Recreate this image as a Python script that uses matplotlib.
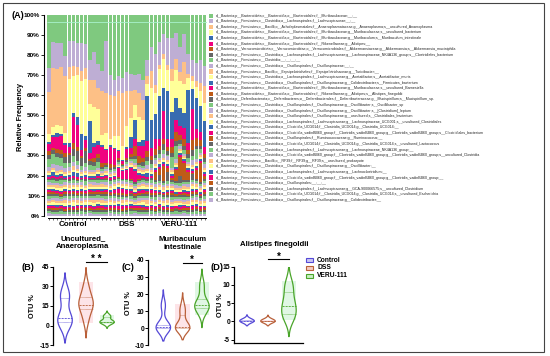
import numpy as np
import matplotlib
matplotlib.use('Agg')
import matplotlib.pyplot as plt
from matplotlib.patches import Rectangle

plt.rcParams['font.family'] = ['Liberation Sans', 'DejaVu Sans']

# ---- data ---------------------------------------------------------------
groups = ["Control", "DSS", "VERU-111"]

taxa = [
    "d__Bacteria;p__Bacteroidota;c__Bacteroidia;o__Bacteroidales;f__Muribaculaceae;__;__",
    "d__Bacteria;p__Firmicutes;c__Clostridia;o__Lachnospirales;f__Lachnospiraceae;__;__",
    "d__Bacteria;p__Firmicutes;c__Bacilli;o__Acholeplasmatales;f__Anaeroplasmataceae;g__Anaeroplasma;s__uncultured_Anaeroplasma",
    "d__Bacteria;p__Bacteroidota;c__Bacteroidia;o__Bacteroidales;f__Muribaculaceae;g__Muribaculaceae;s__uncultured_bacterium",
    "d__Bacteria;p__Bacteroidota;c__Bacteroidia;o__Bacteroidales;f__Muribaculaceae;g__Muribaculum;s__Muribaculum_intestinale",
    "d__Bacteria;p__Bacteroidota;c__Bacteroidia;o__Bacteroidales;f__Rikenellaceae;g__Alistipes;__",
    "d__Bacteria;p__Verrucomicrobiota;c__Verrucomicrobiae;o__Verrucomicrobiales;f__Akkermansiaceae;g__Akkermansia;s__Akkermansia_muciniphila",
    "d__Bacteria;p__Firmicutes;c__Clostridia;o__Lachnospirales;f__Lachnospiraceae;g__Lachnospiraceae_NK4A136_group;s__Clostridiales_bacterium",
    "d__Bacteria;p__Firmicutes;c__Clostridia;__;__;__;__",
    "d__Bacteria;p__Firmicutes;c__Clostridia;o__Oscillospirales;f__Oscillospiraceae;__;__",
    "d__Bacteria;p__Firmicutes;c__Bacilli;o__Erysipelotrichales;f__Erysipelotrichaceae;g__Turicibacter;__",
    "d__Bacteria;p__Firmicutes;c__Clostridia;o__Lachnospirales;f__Lachnospiraceae;g__Acetatifactor;s__Acetatifactor_muris",
    "d__Bacteria;p__Firmicutes;c__Clostridia;o__Oscillospirales;f__Oscillospiraceae;g__Colidextribacter;s__Firmicutes_bacterium",
    "d__Bacteria;p__Bacteroidota;c__Bacteroidia;o__Bacteroidales;f__Muribaculaceae;g__Muribaculaceae;s__uncultured_Barnesiella",
    "d__Bacteria;p__Bacteroidota;c__Bacteroidia;o__Bacteroidales;f__Rikenellaceae;g__Alistipes;s__Alistipes_finegoldii",
    "d__Bacteria;p__Deferribacterota;c__Deferribacteres;o__Deferribacterales;f__Deferribacteraceae;g__Mucispirillum;s__Mucispirillum_sp.",
    "d__Bacteria;p__Firmicutes;c__Clostridia;o__Oscillospirales;f__Oscillospiraceae;g__Oscillibacter;s__Oscillibacter_sp",
    "d__Bacteria;p__Firmicutes;c__Clostridia;o__Oscillospirales;f__Oscillospiraceae;g__Oscillibacter;s__[Clostridium]_leptum",
    "d__Bacteria;p__Firmicutes;c__Clostridia;o__Oscillospirales;f__Oscillospiraceae;g__uncultured;s__Clostridiales_bacterium",
    "d__Bacteria;p__Firmicutes;c__Clostridia;o__Lachnospirales;f__Lachnospiraceae;g__Lachnospiraceae_UCG001;s__uncultured_Clostridiales",
    "d__Bacteria;p__Firmicutes;c__Clostridia;o__Clostridia_UCG014;f__Clostridia_UCG014;g__Clostridia_UCG014;__",
    "d__Bacteria;p__Firmicutes;c__Clostridia;o__Clostridia_vadinBB60_group;f__Clostridia_vadinBB60_group;g__Clostridia_vadinBB60_group;s__Clostridiales_bacterium",
    "d__Bacteria;p__Firmicutes;c__Clostridia;o__Oscillospirales;f__Ruminococcaceae;g__Ruminococcus;__",
    "d__Bacteria;p__Firmicutes;c__Clostridia;o__Clostridia_UCG014;f__Clostridia_UCG014;g__Clostridia_UCG014;s__uncultured_Lactococcus",
    "d__Bacteria;p__Firmicutes;c__Clostridia;o__Lachnospirales;f__Lachnospiraceae;g__Lachnospiraceae_NK4A136_group;__",
    "d__Bacteria;p__Firmicutes;c__Clostridia;o__Clostridia_vadinBB60_group;f__Clostridia_vadinBB60_group;g__Clostridia_vadinBB60_group;s__uncultured_Clostridia",
    "d__Bacteria;p__Firmicutes;c__Bacilli;o__RF39;f__RF39;g__RF39;s__uncultured_prokaryote",
    "d__Bacteria;p__Firmicutes;c__Clostridia;o__Oscillospirales;f__Oscillospiraceae;g__Oscillibacter;__",
    "d__Bacteria;p__Firmicutes;c__Clostridia;o__Lachnospirales;f__Lachnospiraceae;g__Lachnoclostridium;__",
    "d__Bacteria;p__Firmicutes;c__Clostridia;o__Clostridia_vadinBB60_group;f__Clostridia_vadinBB60_group;g__Clostridia_vadinBB60_group;__",
    "d__Bacteria;p__Firmicutes;c__Clostridia;o__Oscillospirales;__;__;__",
    "d__Bacteria;p__Firmicutes;c__Clostridia;o__Lachnospirales;f__Lachnospiraceae;g__GCA-900066575;s__uncultured_Clostridium",
    "d__Bacteria;p__Firmicutes;c__Clostridia;o__Clostridia_UCG014;f__Clostridia_UCG014;g__Clostridia_UCG014;s__uncultured_Escherichia",
    "d__Bacteria;p__Firmicutes;c__Clostridia;o__Oscillospirales;f__Oscillospiraceae;g__Colidextribacter;__",
]

# relative abundance (%), one row per taxon (same order as taxa), one column per mouse
control_pct = [
    [27, 14, 14, 14, 20, 13, 13, 14, 14, 15, 22, 18, 24],
    [12, 13, 13, 12, 10, 13, 12, 12, 14, 12, 10, 14, 12],
    [21, 30, 28, 30, 28, 6, 5, 4, 5, 6, 12, 13, 10],
    [4, 4, 4, 4, 5, 32, 18, 21, 27, 29, 8, 18, 16],
    [1, 1, 2, 1, 1, 2, 2, 4, 8, 2, 16, 2, 2],
    [4, 6, 6, 7, 4, 3, 13, 11, 3, 4, 3, 5, 4],
    [2, 1, 2, 2, 2, 1, 3, 2, 1, 2, 1, 2, 2],
    [2, 2, 2, 2, 3, 4, 3, 5, 4, 6, 2, 2, 2],
    [4, 5, 4, 4, 2, 2, 3, 2, 2, 2, 2, 2, 3],
    [2, 2, 3, 2, 2, 2, 2, 2, 1, 2, 1, 1, 1],
    [1, 1, 1, 1, 1, 1, 2, 1, 1, 1, 1, 1, 1],
    [1, 1, 1, 1, 1, 1, 1, 1, 1, 1, 1, 1, 1],
    [1, 2, 1, 1, 1, 1, 2, 2, 1, 1, 1, 1, 1],
    [1, 1, 1, 1, 0.5, 1, 1, 1, 0.5, 1, 0.5, 0.5, 1],
    [0, 0.3, 0, 0, 0.2, 0, 0, 0.3, 0, 0, 0.2, 0, 0],
    [0.5, 1, 1, 1, 0.5, 1, 1, 0.5, 0.5, 1, 0.5, 0.5, 1],
    [1, 1.5, 1, 2, 1, 1, 1.5, 1, 1, 2, 1, 1, 1.5],
    [1.5, 1, 1, 1, 1.5, 1, 1, 1, 1.5, 1, 1, 1.5, 1],
    [1, 1, 1.5, 1, 1, 1.5, 1, 1, 1, 1, 1.5, 1, 1],
    [1, 1, 1, 1.5, 1, 1, 1, 1.5, 1, 1, 1, 1, 1],
    [0.5, 1, 0.5, 0.5, 1, 0.5, 1, 0.5, 1, 0.5, 0.5, 1, 0.5],
    [1, 0.5, 1, 1, 0.5, 1, 0.5, 1, 0.5, 1, 1, 0.5, 1],
    [1, 1, 0.5, 1, 1, 0.5, 1, 1, 1, 0.5, 1, 1, 1],
    [1, 1, 1, 0.5, 1, 1, 1, 0.5, 1, 1, 1, 1, 0.5],
    [1.5, 1, 1, 1, 1, 1.5, 1, 1, 1, 1, 1, 1, 1.5],
    [1, 1, 1.5, 1, 1, 1, 1, 1, 1.5, 1, 1, 1, 1],
    [1, 1, 1, 1, 1.5, 1, 1, 1.5, 1, 1, 1, 1.5, 1],
    [1, 1.5, 1, 1, 1, 1, 1.5, 1, 1, 1.5, 1, 1, 1],
    [0.5, 0.5, 1, 0.5, 0.5, 1, 0.5, 0.5, 0.5, 1, 0.5, 0.5, 0.5],
    [1, 1, 0.5, 1, 1, 0.5, 1, 1, 1, 0.5, 1, 1, 1],
    [0.5, 1, 1, 0.5, 1, 1, 0.5, 1, 0.5, 1, 1, 0.5, 1],
    [1, 1, 1, 1, 0.5, 1, 1, 1, 1, 1, 0.5, 1, 1],
    [1, 1, 1, 1.5, 1, 1, 1, 1, 1.5, 1, 1, 1, 1],
    [1.5, 1, 1, 1, 1, 1, 1, 1, 1, 1, 1.5, 1, 1],
]

dss_pct = [
    [28, 13, 30, 32, 32, 33, 30, 31, 32, 30, 32, 22, 16],
    [10, 26, 10, 8, 8, 8, 10, 9, 8, 10, 10, 8, 12],
    [22, 20, 22, 20, 24, 28, 18, 14, 8, 12, 10, 4, 8],
    [5, 8, 3, 6, 7, 7, 11, 10, 8, 13, 10, 6, 16],
    [1, 0.5, 1, 0.5, 0.5, 0.5, 1, 6, 10, 2, 3, 22, 14],
    [8, 7, 8, 8, 4, 2, 5, 3, 4, 5, 6, 5, 4],
    [2, 1, 2, 1, 1, 0.5, 1, 2, 5, 4, 2, 3, 2],
    [1, 1, 1, 1, 1, 0.5, 1, 1, 2, 1, 2, 2, 2],
    [1, 1, 1, 1, 1, 0.5, 1, 1, 2, 1, 1, 2, 2],
    [1, 1, 1, 1, 0.5, 0.5, 1, 1, 1, 1, 1, 2, 1],
    [1, 1, 1, 1, 0.5, 0.5, 1, 1, 1, 1, 1, 1, 1],
    [0.5, 1, 0.5, 0.5, 0.5, 0.5, 0.5, 1, 1, 1, 1, 1, 1],
    [0.5, 0.5, 0.5, 0.5, 0.5, 0.5, 0.5, 0.5, 1, 1, 1, 2, 1],
    [1, 1, 1, 1, 5, 4, 5, 6, 6, 2, 1, 1, 1],
    [0, 0.2, 0, 0, 0.3, 0, 0, 0.2, 0, 0.3, 0, 0, 0],
    [0.5, 0.5, 0.5, 0.5, 0.5, 0.5, 0.5, 0.5, 1, 0.5, 1, 1, 1],
    [1, 1, 1.5, 1, 1, 1, 1, 1.5, 1, 1, 1, 1, 1.5],
    [1, 1.5, 1, 1, 1, 1.5, 1, 1, 1, 1.5, 1, 1, 1],
    [1.5, 1, 1, 1, 1.5, 1, 1, 1, 1.5, 1, 1, 1, 1],
    [1, 1, 1, 1.5, 1, 1, 1.5, 1, 1, 1, 1.5, 1, 1],
    [1, 0.5, 1, 0.5, 1, 0.5, 0.5, 1, 0.5, 1, 0.5, 1, 0.5],
    [0.5, 1, 0.5, 1, 2, 2, 2, 1, 0.5, 1, 1, 0.5, 1],
    [1, 1, 1, 0.5, 1, 1, 1, 0.5, 1, 1, 0.5, 1, 1],
    [1, 1, 0.5, 1, 1, 1, 0.5, 1, 1, 0.5, 1, 1, 1],
    [1, 1.5, 1, 1, 1, 1, 1, 1.5, 1, 1, 1, 1, 1],
    [1, 1, 1, 1.5, 1, 1, 1, 1, 1, 1.5, 1, 1, 1],
    [1.5, 1, 1, 1, 1, 1.5, 1, 1, 1, 1, 1, 1.5, 1],
    [1, 1, 1.5, 1, 1, 1, 1.5, 1, 1, 1, 1.5, 1, 1],
    [0.5, 1, 0.5, 0.5, 1, 0.5, 0.5, 1, 0.5, 0.5, 1, 0.5, 0.5],
    [1, 1, 1, 1, 1.5, 1.5, 1, 1, 1, 1, 0.5, 1, 1],
    [1, 0.5, 1, 1, 0.5, 1, 1, 0.5, 1, 1, 1, 0.5, 1],
    [1, 1, 0.5, 1, 1, 0.5, 1, 1, 0.5, 1, 1, 1, 0.5],
    [1, 1, 1, 1, 1, 1, 1, 1.5, 1, 1, 1, 1, 1.5],
    [1, 1, 1.5, 1, 1, 1, 1, 1, 1.5, 1, 1, 1, 1],
]

veru_pct = [
    [20, 14, 10, 12, 12, 10, 18, 10, 20, 22, 26, 24, 25],
    [16, 12, 10, 14, 16, 14, 14, 15, 10, 8, 10, 12, 10],
    [4, 2, 3, 3, 6, 6, 5, 12, 2, 2, 3, 4, 8],
    [11, 14, 15, 11, 16, 15, 15, 15, 6, 4, 6, 8, 9],
    [13, 22, 12, 25, 14, 12, 10, 8, 27, 10, 17, 14, 13],
    [5, 4, 14, 4, 4, 6, 5, 6, 4, 15, 5, 4, 3],
    [3, 2, 3, 2, 3, 5, 3, 4, 2, 5, 4, 3, 2],
    [2, 2, 3, 2, 2, 3, 2, 2, 2, 3, 2, 2, 2],
    [1, 2, 2, 1, 6, 7, 1, 2, 2, 2, 5, 2, 1],
    [2, 1, 2, 2, 1, 2, 2, 1, 1, 2, 2, 1, 2],
    [1, 1, 1, 1, 1, 1, 1, 1, 1, 1, 1, 1, 1],
    [1, 1, 1, 1, 1, 1, 1, 1, 1, 1, 1, 1, 1],
    [1, 2, 1, 1, 1, 1, 1, 1, 1, 1, 1, 1, 1],
    [1, 1, 1, 1, 1, 1, 1, 1, 1, 1, 1, 1, 1],
    [4, 3, 8, 2, 1, 6, 11, 9, 4.3, 0.5, 5, 10, 1.5],
    [1, 3, 1, 5, 1, 1, 4, 1, 1, 3, 1, 1, 1],
    [1, 1, 1, 1.5, 1, 1, 1.5, 1, 1, 1, 1, 1.5, 1],
    [1.5, 1, 1, 1, 1, 1.5, 1, 1, 1.5, 1, 1, 1, 1],
    [1, 1, 1.5, 1, 1, 1, 1, 1.5, 1, 1, 1.5, 1, 1],
    [1, 1.5, 1, 1, 1.5, 1, 1, 1, 1, 1.5, 1, 1, 1],
    [0.5, 1, 0.5, 1, 0.5, 1, 0.5, 1, 0.5, 1, 0.5, 1, 0.5],
    [1, 0.5, 1, 0.5, 1, 0.5, 1, 0.5, 1, 0.5, 1, 0.5, 1],
    [1, 1, 0.5, 1, 1, 1, 0.5, 1, 1, 1, 1, 0.5, 1],
    [1, 0.5, 1, 1, 1, 0.5, 1, 1, 0.5, 1, 1, 1, 1],
    [1.5, 1, 1, 1, 1.5, 1, 1, 1.5, 1, 1, 1, 1, 1.5],
    [1, 1.5, 1, 1, 1, 1, 1.5, 1, 1, 1, 1.5, 1, 1],
    [1, 1, 1, 1.5, 1, 1, 1, 1, 1.5, 1, 1, 1.5, 1],
    [1, 1, 1.5, 1, 1, 1.5, 1, 1, 1, 1.5, 1, 1, 1],
    [0.5, 0.5, 0.5, 1, 0.5, 0.5, 1, 0.5, 0.5, 0.5, 1, 0.5, 0.5],
    [1, 1, 1, 0.5, 1, 1, 1, 1, 0.5, 1, 1, 1, 0.5],
    [1, 1, 0.5, 1, 1, 0.5, 1, 1, 1, 0.5, 1, 1, 1],
    [0.5, 1, 1, 1, 0.5, 1, 1, 0.5, 1, 1, 1, 0.5, 1],
    [1, 1, 1, 1, 1, 1.5, 1, 1, 1, 1, 1.5, 1, 1],
    [1, 1.5, 1, 1, 1, 1, 1, 1.5, 1, 1, 1, 1, 1],
]

# OTU % per mouse for the three violin panels
anaero_ctrl = [0, 1, 2, 3, 5, 6, 6, 8, 19, 21, 23, 25, 27]
anaero_dss = [2, 6, 10, 13, 15, 16, 16, 18, 20, 22, 25, 28, 33]
anaero_veru = [1, 1.5, 2, 2.5, 3, 3, 3, 3.5, 4, 6.5, 7, 7.5, 8]
murib_ctrl = [0, 0, 0, 0, 0, 0, 0.5, 1, 1.5, 2, 12, 13, 15]
murib_dss = [0, 0, 0, 0, 0, 0, 0.5, 1, 3, 8, 10, 11, 14]
murib_veru = [8, 10, 11, 12, 13, 13.5, 13.5, 14, 15, 17, 22, 25, 27]
fine_ctrl = [0, 0, 0, 0, 0, 0, 0, 0.1, 0.2, 0.3, 0.4, 0.5, 0.6]
fine_dss = [0, 0, 0, 0, 0, 0, 0, 0, 0.1, 0.2, 0.3, 0.4, 0.5]
fine_veru = [0.5, 1, 1.5, 2, 3, 4, 4.3, 5, 6, 8, 9, 10, 11]

# ---- styling ------------------------------------------------------------
accent = ['#7fc97f', '#beaed4', '#fdc086', '#ffff99',
          '#386cb0', '#f0027f', '#bf5b17', '#666666']
grp_line = ['#5549d6', '#b9603a', '#4aa52a']
grp_fill = ['#cac7f3', '#f4cbc2', '#c8efc3']
grp_back = [None, '#fde4e8', '#e0f7e4']

W, H = 550, 356
fig = plt.figure(figsize=(W / 100, H / 100), dpi=100)


def px_axes(left, top, right, bottom):
    return fig.add_axes([left / W, 1 - bottom / H, (right - left) / W, (bottom - top) / H])


# ---- (A) stacked bars ---------------------------------------------------
raw = np.hstack([np.array(control_pct, float), np.array(dss_pct, float),
                 np.array(veru_pct, float)])
pct = raw / raw.sum(axis=0) * 100
n_per = len(control_pct[0])
x = np.arange(raw.shape[1])

axA = px_axes(44, 15, 207.1, 215.7)
base = np.zeros(len(x))
for i in range(len(taxa) - 1, -1, -1):
    axA.bar(x, pct[i], bottom=base, width=0.86, color=accent[i % 8], linewidth=0)
    base += pct[i]
axA.hlines(96.7, -0.5, len(x) - 0.5, color='#a8f2cc', lw=0.6)
axA.set_xlim(-1.16, len(x) - 0.4)
axA.set_ylim(0, 100)
axA.set_yticks(np.arange(0, 101, 10))
axA.set_yticklabels([f"{v}%" for v in range(0, 101, 10)], fontsize=4.6, fontweight='bold')
axA.set_xticks([])
axA.tick_params(axis='y', length=2, width=0.6, pad=1)
for s in ['top', 'right', 'bottom']:
    axA.spines[s].set_visible(False)
axA.spines['left'].set_linewidth(0.8)
for g, name in enumerate(groups):
    xs = x[g * n_per:(g + 1) * n_per]
    axA.plot([xs[0] - 0.3, xs[-1] + 0.3], [-1.3, -1.3], color='black', lw=0.7, clip_on=False)
    axA.vlines(xs, -2.3, -1.3, color='black', lw=0.4, clip_on=False)
    axA.text(xs.mean(), -4.3, name, ha='center', va='center', fontsize=5.8,
             fontweight='bold')

# ---- violins ------------------------------------------------------------


def draw_violin(ax, pos, data, g, width, bw_min=0.0):
    d = np.asarray(data, float)
    bw = max(d.std(ddof=1) * len(d) ** (-0.2), bw_min)
    grid = np.linspace(d.min() - 2.2 * bw, d.max() + 2.2 * bw, 300)
    dens = np.exp(-0.5 * ((grid[:, None] - d[None, :]) / bw) ** 2).sum(axis=1)
    half = dens / dens.max() * width / 2
    if grp_back[g]:
        ax.add_patch(Rectangle((pos - width / 2, d.min()), width, d.max() - d.min(),
                               facecolor=grp_back[g], edgecolor='none', zorder=1))
    ax.fill_betweenx(grid, pos - half, pos + half, facecolor='none',
                     edgecolor=grp_line[g], lw=0.9, zorder=3)
    q1, med, q3 = np.percentile(d, [25, 50, 75])
    for q, ls, lw in [(med, (0, (2.5, 1.2)), 0.6), (q1, (0, (0.8, 0.8)), 0.5),
                      (q3, (0, (0.8, 0.8)), 0.5)]:
        h = np.interp(q, grid, half)
        ax.plot([pos - h, pos + h], [q, q], color=grp_line[g], lw=lw, ls=ls, zorder=3)


panels = [
    dict(tag="(B)", title="Uncultured_\nAnaeroplasma", box=(53.3, 266.7, 118, 345.3),
         ylim=(-15, 45), ticks=[-15, 0, 15, 30, 45], xlim=(0.443, 3.52),
         data=[anaero_ctrl, anaero_dss, anaero_veru], star="* *", sig_y=48.8,
         tag_x=22, lab_x=33, title_xy=(83, 243), bw_min=0.0, bottom=False),
    dict(tag="(C)", title="Muribaculum\nintestinale", box=(148.3, 260, 212, 345.3),
         ylim=(-10, 40), ticks=[-10, 0, 10, 20, 30, 40], xlim=(0.223, 3.52),
         data=[murib_ctrl, murib_dss, murib_veru], star="*", sig_y=38.4,
         tag_x=121, lab_x=128, title_xy=(183, 243.3), bw_min=0.0, bottom=False),
    dict(tag="(D)", title="Alistipes finegoldii", box=(234.3, 266.7, 303, 343.3),
         ylim=(-6, 15), ticks=[-5, 0, 5, 10, 15], xlim=(0.395, 3.67),
         data=[fine_ctrl, fine_dss, fine_veru], star="*", sig_y=17.0,
         tag_x=210.5, lab_x=221, title_xy=(274, 245), bw_min=0.55, bottom=True),
]

for p in panels:
    l, t, r, b = p['box']
    ax = px_axes(l, t, r, b)
    ax.set_xlim(*p['xlim'])
    ax.set_ylim(*p['ylim'])
    ppu = (r - l) / (p['xlim'][1] - p['xlim'][0])
    for g, d in enumerate(p['data']):
        draw_violin(ax, g + 1, d, g, 14.5 / ppu, p['bw_min'])
    ax.set_yticks(p['ticks'])
    ax.set_yticklabels([str(v) for v in p['ticks']], fontsize=4.9, fontweight='bold')
    ax.set_xticks([])
    ax.tick_params(axis='y', length=2.2, width=0.7, pad=0.8)
    ax.spines['top'].set_visible(False)
    ax.spines['right'].set_visible(False)
    ax.spines['bottom'].set_visible(p['bottom'])
    ax.spines['left'].set_linewidth(0.9)
    ax.spines['bottom'].set_linewidth(0.9)
    ax.patch.set_alpha(0)
    ax.plot([2, 3], [p['sig_y'], p['sig_y']], color='black', lw=0.8, clip_on=False)
    ax.text(2.5, p['sig_y'], p['star'], ha='center', va='baseline', fontsize=7,
            fontweight='bold', clip_on=False)
    fig.text(p['tag_x'] / W, 1 - 267 / H, p['tag'], fontsize=6.7, fontweight='bold',
             ha='left', va='center')
    fig.text(p['lab_x'] / W, 1 - (t + b) / 2 / H, "OTU %", fontsize=5.2,
             fontweight='bold', rotation=90, ha='center', va='center')
    fig.text(p['title_xy'][0] / W, 1 - p['title_xy'][1] / H, p['title'], fontsize=5.6,
             fontweight='bold', ha='center', va='center', linespacing=1.2)

# ---- overlay: labels, legends, frame -----------------------------------
canvas = fig.add_axes([0, 0, 1, 1], zorder=5)
canvas.set_xlim(0, W)
canvas.set_ylim(H, 0)
canvas.set_axis_off()

canvas.text(12, 15.5, "(A)", fontsize=6.5, fontweight='bold', ha='left', va='center')
canvas.text(21, 117, "Relative Frequency", fontsize=5.3, fontweight='bold',
            rotation=90, ha='center', va='center')

for i, name in enumerate(taxa):
    yc = 15.7 + 5.58 * i
    canvas.add_patch(Rectangle((209, yc - 2.1), 4.3, 4.2, facecolor=accent[i % 8],
                               edgecolor='none'))
    canvas.text(216, yc, name, fontsize=2.6, color='#222222', ha='left', va='center')

for g, name in enumerate(groups):
    yc = 260 + 7.9 * g
    canvas.add_patch(Rectangle((306, yc - 1.8), 7, 3.6, facecolor=grp_fill[g],
                               edgecolor=grp_line[g], lw=0.8))
    canvas.text(317, yc, name, fontsize=4.8, fontweight='bold', ha='left', va='center')

canvas.add_patch(Rectangle((3, 3), 541, 349, fill=False, edgecolor='#444444', lw=0.8))

fig.savefig("out.png", dpi=100)
